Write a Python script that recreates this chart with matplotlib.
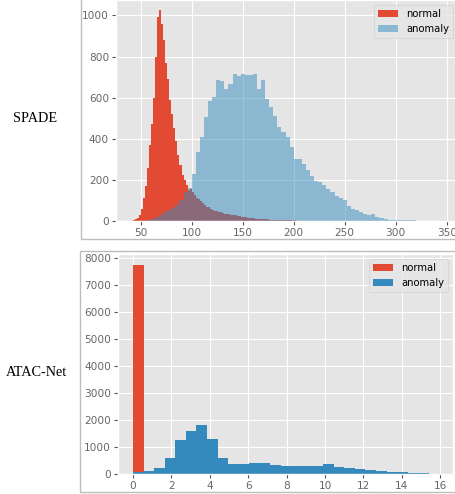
import numpy as np
import matplotlib
matplotlib.use("Agg")
import matplotlib.pyplot as plt
from matplotlib.patches import Rectangle

plt.style.use("ggplot")

# ---------------- SPADE data (bin edges + counts) ----------------
spade_normal_start, spade_normal_width = 42, 2
spade_normal_counts = [
    5, 8, 15, 30, 60, 110, 170, 260, 370, 470,
    600, 800, 990, 1024, 960, 880, 770, 690, 590, 520,
    450, 390, 320, 270, 225, 200, 175, 150, 155, 140,
    125, 110, 105, 95, 88, 80, 70, 68, 60, 55,
    50, 48, 44, 42, 38, 36, 33, 32, 30, 28,
    27, 25, 22, 21, 20, 18, 17, 16, 15, 14,
    12, 12, 11, 10, 9, 9, 8, 7, 7, 6,
    5, 5, 4, 4, 3, 4, 3, 3, 2, 3,
    2, 2, 2, 1, 2, 1, 1, 2, 1, 1,
    1, 0, 1, 1, 0, 1, 0, 1, 0, 0,
    1, 0, 0, 1,
]
spade_anomaly_start, spade_anomaly_width = 56, 4
spade_anomaly_counts = [
    5, 12, 20, 30, 45, 52, 62, 80, 100, 140,
    160, 230, 335, 408, 505, 586, 602, 684, 680, 643,
    668, 716, 703, 713, 708, 708, 716, 643, 687, 595,
    554, 513, 456, 432, 408, 359, 303, 303, 278, 246,
    221, 197, 189, 173, 157, 140, 124, 113, 103, 75,
    59, 54, 43, 35, 27, 35, 18, 15, 11, 7,
    6, 5, 5, 5, 4, 3,
]
spade_xticks = [50, 100, 150, 200, 250, 300, 350]
spade_yticks = [0, 200, 400, 600, 800, 1000]

# ---------------- ATAC-Net data ----------------
atac_bin_width = 0.55
atac_normal_counts = [7720]
atac_anomaly_counts = [
    80, 123, 210, 580, 1258, 1590, 1812, 1282, 580, 358,
    358, 400, 400, 345, 300, 300, 300, 300, 358, 271,
    234, 185, 148, 111, 74, 74, 45, 45,
]
atac_xticks = [0, 2, 4, 6, 8, 10, 12, 14, 16]
atac_yticks = [0, 1000, 2000, 3000, 4000, 5000, 6000, 7000, 8000]

labels = ["normal", "anomaly"]
row_titles = ["SPADE", "ATAC-Net"]

RED = "#E24A33"
BLUE = "#348ABD"

W, H = 456, 494
fig = plt.figure(figsize=(W / 100, H / 100), dpi=100)
fig.patch.set_facecolor("white")


def fr(x0, y0, x1, y1):
    # pixel box (top-left origin) -> figure fraction [l, b, w, h]
    return [x0 / W, 1 - y1 / H, (x1 - x0) / W, (y1 - y0) / H]


# frames around each screenshot
for (x0, y0, x1, y1) in [(81, -5, 470, 239), (80, 251, 470, 492)]:
    l, b, w, h = fr(x0, y0, x1, y1)
    fig.patches.append(Rectangle((l, b), w, h, transform=fig.transFigure,
                                 fill=False, edgecolor="#BDBDBD", linewidth=1.0,
                                 zorder=0))

tick_fs = 7.6
leg_fs = 7.2

# ---- top axes (SPADE)
ax1 = fig.add_axes(fr(116, 0, 458, 221))
e_n = spade_normal_start + spade_normal_width * np.arange(len(spade_normal_counts) + 1)
e_a = spade_anomaly_start + spade_anomaly_width * np.arange(len(spade_anomaly_counts) + 1)
ax1.hist(e_n[:-1], bins=e_n, weights=spade_normal_counts, color=RED, label=labels[0])
ax1.hist(e_a[:-1], bins=e_a, weights=spade_anomaly_counts, color=BLUE, alpha=0.5,
         label=labels[1])
ax1.set_xlim(25.8, 361)
ax1.set_ylim(0, 1075)
ax1.set_xticks(spade_xticks)
ax1.set_yticks(spade_yticks)
ax1.legend(loc="upper right", fontsize=leg_fs, borderaxespad=0.5)

# ---- bottom axes (ATAC-Net)
ax2 = fig.add_axes(fr(118, 254, 453, 474))
e_an = atac_bin_width * np.arange(len(atac_anomaly_counts) + 1)
e_nn = atac_bin_width * np.arange(len(atac_normal_counts) + 1)
ax2.hist(e_nn[:-1], bins=e_nn, weights=atac_normal_counts, color=RED, label=labels[0])
ax2.hist(e_an[:-1], bins=e_an, weights=atac_anomaly_counts, color=BLUE, label=labels[1])
ax2.set_xlim(-0.78, 16.66)
ax2.set_ylim(0, 8140)
ax2.set_xticks(atac_xticks)
ax2.set_yticks(atac_yticks)
ax2.legend(loc="upper right", fontsize=leg_fs, borderaxespad=0.5)

for ax in (ax1, ax2):
    ax.tick_params(labelsize=tick_fs, length=3, pad=2, colors="#555555",
                   labelcolor="#666666")

serif = ["Liberation Serif", "DejaVu Serif"]
fig.text(35 / W, 1 - 118.5 / H, row_titles[0], family=serif, fontsize=10.3,
         ha="center", va="center", color="black")
fig.text(36 / W, 1 - 372.5 / H, row_titles[1], family=serif, fontsize=10.3,
         ha="center", va="center", color="black")

fig.savefig("out.png", dpi=100, facecolor="white")
